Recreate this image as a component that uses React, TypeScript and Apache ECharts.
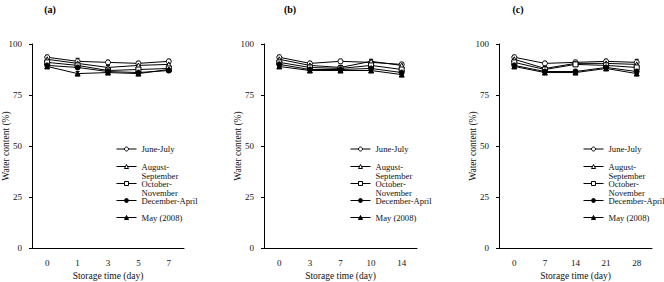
import React, { useEffect, useRef } from "react";
import * as echarts from "echarts";

// Series (harvest periods) and how their names are broken in the legend.
// Two-line labels get a blank first line so that the middle line sits on the marker.
const seriesNames = ["June-July", "August-September", "October-November", "December-April", "May (2008)"];
const legendLabels = ["June-July", " \nAugust-\nSeptember", " \nOctober-\nNovember", "December-April", "May (2008)"];
const seriesSymbols = ["circle", "triangle", "rect", "circle", "triangle"];
const seriesHollow = [true, true, true, false, false];

// Storage days per panel
const daysA = ["0", "1", "3", "5", "7"];
const daysB = ["0", "3", "7", "10", "14"];
const daysC = ["0", "7", "14", "21", "28"];

const yTicks = [0, 25, 50, 75, 100];

// Panel (a): water content (%)
const aJuneJuly = [93.5, 91.5, 91, 90.5, 91.5];
const aAugSep = [92.5, 90.5, 88.5, 89.5, 90];
const aOctNov = [91, 89.5, 87, 87.5, 88];
const aDecApr = [89.5, 88.5, 86.5, 86, 87];
const aMay = [89, 85.5, 86, 85.5, 87.5];
// Panel (a): standard deviations
const aJuneJulyErr = [1, 1.5, 1, 1, 1];
const aAugSepErr = [1, 1.5, 1, 1, 1.5];
const aOctNovErr = [1, 1, 1, 1, 1];
const aDecAprErr = [1.5, 1, 1, 1, 1];
const aMayErr = [1, 1, 1, 1, 1];

// Panel (b): water content (%)
const bJuneJuly = [93.5, 90.5, 91.5, 91, 90];
const bAugSep = [92.5, 89.5, 88.5, 91.5, 89.5];
const bOctNov = [91, 88.5, 88, 89.5, 87.5];
const bDecApr = [90, 87.5, 87.5, 88, 86];
const bMay = [89, 87, 87, 87, 85];
// Panel (b): standard deviations
const bJuneJulyErr = [1, 1, 1, 1, 1];
const bAugSepErr = [1, 1, 1, 1, 1];
const bOctNovErr = [1, 1, 1.5, 1, 1];
const bDecAprErr = [1, 1, 1, 1.5, 1];
const bMayErr = [1, 1, 1, 1, 1];

// Panel (c): water content (%)
const cJuneJuly = [93.5, 90.5, 91, 91.5, 91];
const cAugSep = [92.5, 88, 90.5, 90.5, 90];
const cOctNov = [91, 87.5, 90, 89.5, 88.5];
const cDecApr = [89.5, 86.5, 86.5, 88.5, 86.5];
const cMay = [89, 86, 86, 88, 85.5];
// Panel (c): standard deviations
const cJuneJulyErr = [1, 1, 1, 1, 1.5];
const cAugSepErr = [1, 1, 1, 1, 1];
const cOctNovErr = [1, 1, 1, 1, 1];
const cDecAprErr = [1, 1, 1, 1, 1];
const cMayErr = [1, 1, 1, 1, 1];

const panelTitles = ["(a)", "(b)", "(c)"];

const FONT = '"Liberation Serif", "Times New Roman", serif';
const INK = "#111";

type Panel = {
  days: string[];
  values: number[][];
  errors: number[][];
  gridLeft: number;
  gridWidth: number;
  legendLeft: number;
  titleX: number;
};

const panels: Panel[] = [
  {
    days: daysA,
    values: [aJuneJuly, aAugSep, aOctNov, aDecApr, aMay],
    errors: [aJuneJulyErr, aAugSepErr, aOctNovErr, aDecAprErr, aMayErr],
    gridLeft: 32,
    gridWidth: 152,
    legendLeft: 116,
    titleX: 50,
  },
  {
    days: daysB,
    values: [bJuneJuly, bAugSep, bOctNov, bDecApr, bMay],
    errors: [bJuneJulyErr, bAugSepErr, bOctNovErr, bDecAprErr, bMayErr],
    gridLeft: 264,
    gridWidth: 153,
    legendLeft: 350,
    titleX: 290,
  },
  {
    days: daysC,
    values: [cJuneJuly, cAugSep, cOctNov, cDecApr, cMay],
    errors: [cJuneJulyErr, cAugSepErr, cOctNovErr, cDecAprErr, cMayErr],
    gridLeft: 499,
    gridWidth: 153,
    legendLeft: 583,
    titleX: 518,
  },
];

// vertical centre of each legend row
const legendRows = [149, 166.5, 183.5, 200.5, 217.5];

function buildOption() {
  const grid: any[] = [];
  const xAxis: any[] = [];
  const yAxis: any[] = [];
  const series: any[] = [];
  const legend: any[] = [];
  const graphic: any[] = [];

  panels.forEach((p, pi) => {
    grid.push({
      left: p.gridLeft,
      top: 44,
      width: p.gridWidth,
      height: 204,
      outerBoundsMode: "none",
      containLabel: false,
    });

    xAxis.push({
      type: "category",
      gridIndex: pi,
      data: p.days,
      boundaryGap: true,
      name: "Storage time (day)",
      nameLocation: "middle",
      nameGap: 23,
      nameMoveOverlap: false,
      nameTextStyle: { fontFamily: FONT, fontSize: 9.5, color: INK },
      axisLine: { lineStyle: { color: "#000", width: 1 } },
      axisTick: { inside: true, length: 3, lineStyle: { color: "#000" } },
      axisLabel: { fontFamily: FONT, fontSize: 9, color: INK, margin: 10 },
      splitLine: { show: false },
    });

    yAxis.push({
      type: "value",
      gridIndex: pi,
      min: yTicks[0],
      max: yTicks[yTicks.length - 1],
      interval: 25,
      name: "Water content (%)",
      nameLocation: "middle",
      nameGap: 21,
      nameMoveOverlap: false,
      nameTextStyle: { fontFamily: FONT, fontSize: 9.5, lineHeight: 10, color: INK },
      axisLine: { show: true, lineStyle: { color: "#000", width: 1 } },
      axisTick: { show: true, inside: false, length: 3, lineStyle: { color: "#000" } },
      axisLabel: { fontFamily: FONT, fontSize: 9, color: INK, margin: 10 },
      splitLine: { show: false },
    });

    // error bars for every point of the panel
    const errData: number[][] = [];
    p.values.forEach((vals, si) => {
      vals.forEach((v, i) => errData.push([i, v, p.errors[si][i]]));
    });
    series.push({
      type: "custom",
      xAxisIndex: pi,
      yAxisIndex: pi,
      data: errData,
      z: 1,
      silent: true,
      renderItem: (_params: any, api: any) => {
        const i = api.value(0);
        const v = api.value(1);
        const e = api.value(2);
        const hi = api.coord([i, v + e]);
        const lo = api.coord([i, v - e]);
        const cap = 2;
        const style = { stroke: "#000", lineWidth: 1 };
        return {
          type: "group",
          children: [
            { type: "line", shape: { x1: hi[0], y1: hi[1], x2: lo[0], y2: lo[1] }, style },
            { type: "line", shape: { x1: hi[0] - cap, y1: hi[1], x2: hi[0] + cap, y2: hi[1] }, style },
            { type: "line", shape: { x1: lo[0] - cap, y1: lo[1], x2: lo[0] + cap, y2: lo[1] }, style },
          ],
        };
      },
    });

    p.values.forEach((vals, si) => {
      series.push({
        type: "line",
        name: seriesNames[si],
        xAxisIndex: pi,
        yAxisIndex: pi,
        data: vals,
        symbol: seriesSymbols[si],
        symbolSize: 5,
        z: 3,
        itemStyle: {
          color: seriesHollow[si] ? "#fff" : "#000",
          borderColor: "#000",
          borderWidth: 1,
        },
        lineStyle: { color: "#000", width: 1 },
      });
    });

    seriesNames.forEach((name, si) => {
      const twoLine = legendLabels[si].includes("\n");
      legend.push({
        data: [name],
        left: p.legendLeft,
        top: legendRows[si] - (twoLine ? 13.5 : 4.5),
        padding: 0,
        itemWidth: 20,
        itemHeight: 5,
        selectedMode: false,
        formatter: () => legendLabels[si],
        itemStyle: {
          color: seriesHollow[si] ? "#fff" : "#000",
          borderColor: "#000",
          borderWidth: 1,
        },
        lineStyle: { color: "#000", width: 1 },
        textStyle: {
          fontFamily: FONT,
          fontSize: 8.6,
          lineHeight: 9,
          color: INK,
        },
      });
    });

    graphic.push({
      type: "text",
      x: p.titleX,
      y: 9,
      style: {
        text: panelTitles[pi],
        align: "center",
        verticalAlign: "middle",
        font: `bold 10px ${FONT}`,
        fill: "#000",
      },
    });
  });

  return {
    animation: false,
    backgroundColor: "#fff",
    grid,
    xAxis,
    yAxis,
    series,
    legend,
    graphic,
  };
}

export default function App() {
  const ref = useRef<HTMLDivElement>(null);

  useEffect(() => {
    if (!ref.current) return;
    const chart = echarts.init(ref.current, undefined, { renderer: "svg" });
    chart.setOption(buildOption());
    return () => chart.dispose();
  }, []);

  return <div ref={ref} style={{ width: 664, height: 282, position: "absolute", left: 0, top: 0 }} />;
}
